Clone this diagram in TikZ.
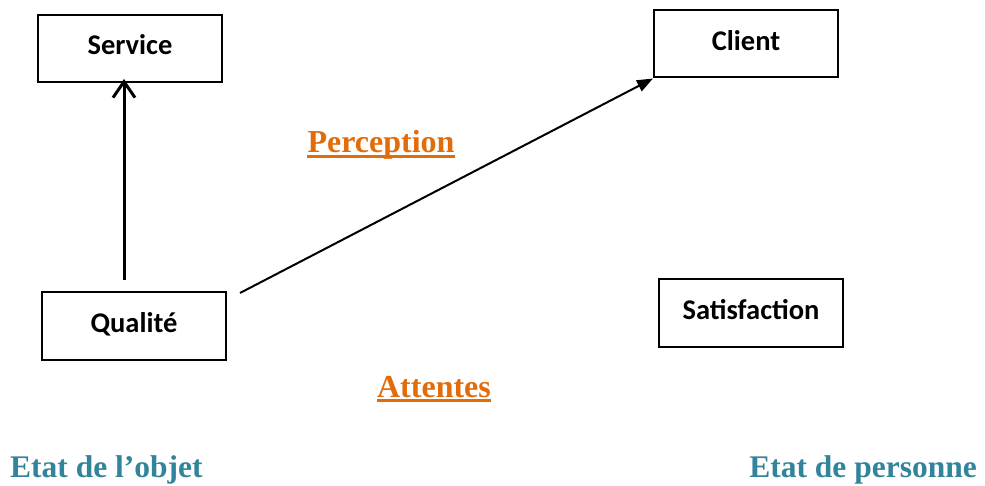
\documentclass[tikz,border=0pt]{standalone}
\usepackage{fontspec}
\setmainfont{Liberation Serif}
\newfontfamily\boxfont{Carlito}
\usetikzlibrary{arrows.meta}
\definecolor{lblorange}{HTML}{E36C0A}
\definecolor{lblteal}{HTML}{31849B}
\begin{document}
\begin{tikzpicture}[x=1pt,y=-1pt,
  boxnode/.style={draw=black,line width=2pt,minimum width=184pt,minimum height=67pt,inner sep=0pt,text height=18pt,text depth=5pt,font=\boxfont\bfseries\fontsize{28.5}{32}\selectfont},
  orangelbl/.style={text=lblorange,font=\bfseries\fontsize{32}{36}\selectfont,inner sep=0pt,anchor=base},
  ulline/.style={draw=lblorange,line width=2.5pt},
  teallbl/.style={text=lblteal,font=\bfseries\fontsize{31.5}{36}\selectfont,inner sep=0pt}]
\useasboundingbox (0,0) rectangle (985,486);
\node[boxnode] (service) at (130,48.5) {Service};
\node[boxnode] (client) at (746,44) {Client};
\node[boxnode] (qualite) at (134,326) {Qualité};
\node[boxnode] (satisf) at (751,313) {Satisfaction};
\node[orangelbl] (perception) at (381,153) {Perception};
\draw[ulline] ([yshift=-3.5pt]perception.base west) -- ([yshift=-3.5pt]perception.base east);
\node[orangelbl] (attentes) at (434,397) {Attentes};
\draw[ulline] ([yshift=-3.5pt]attentes.base west) -- ([yshift=-3.5pt]attentes.base east);
\node[teallbl,anchor=base west] (objet) at (10,477) {Etat de l'objet};
\node[teallbl,anchor=base east] (personne) at (977,477) {Etat de personne};
\coordinate (qtop) at (124,280);
\coordinate (qright) at (240,293);
\draw[line width=3pt,-{Straight Barb[length=16pt,width=22pt,line width=3pt]}] (qtop) -- ([yshift=4pt]qtop |- service.south);
\draw[line width=2pt,-{Triangle[length=16pt,width=12pt]}] (qright) -- (client.south west);
\end{tikzpicture}
\end{document}
